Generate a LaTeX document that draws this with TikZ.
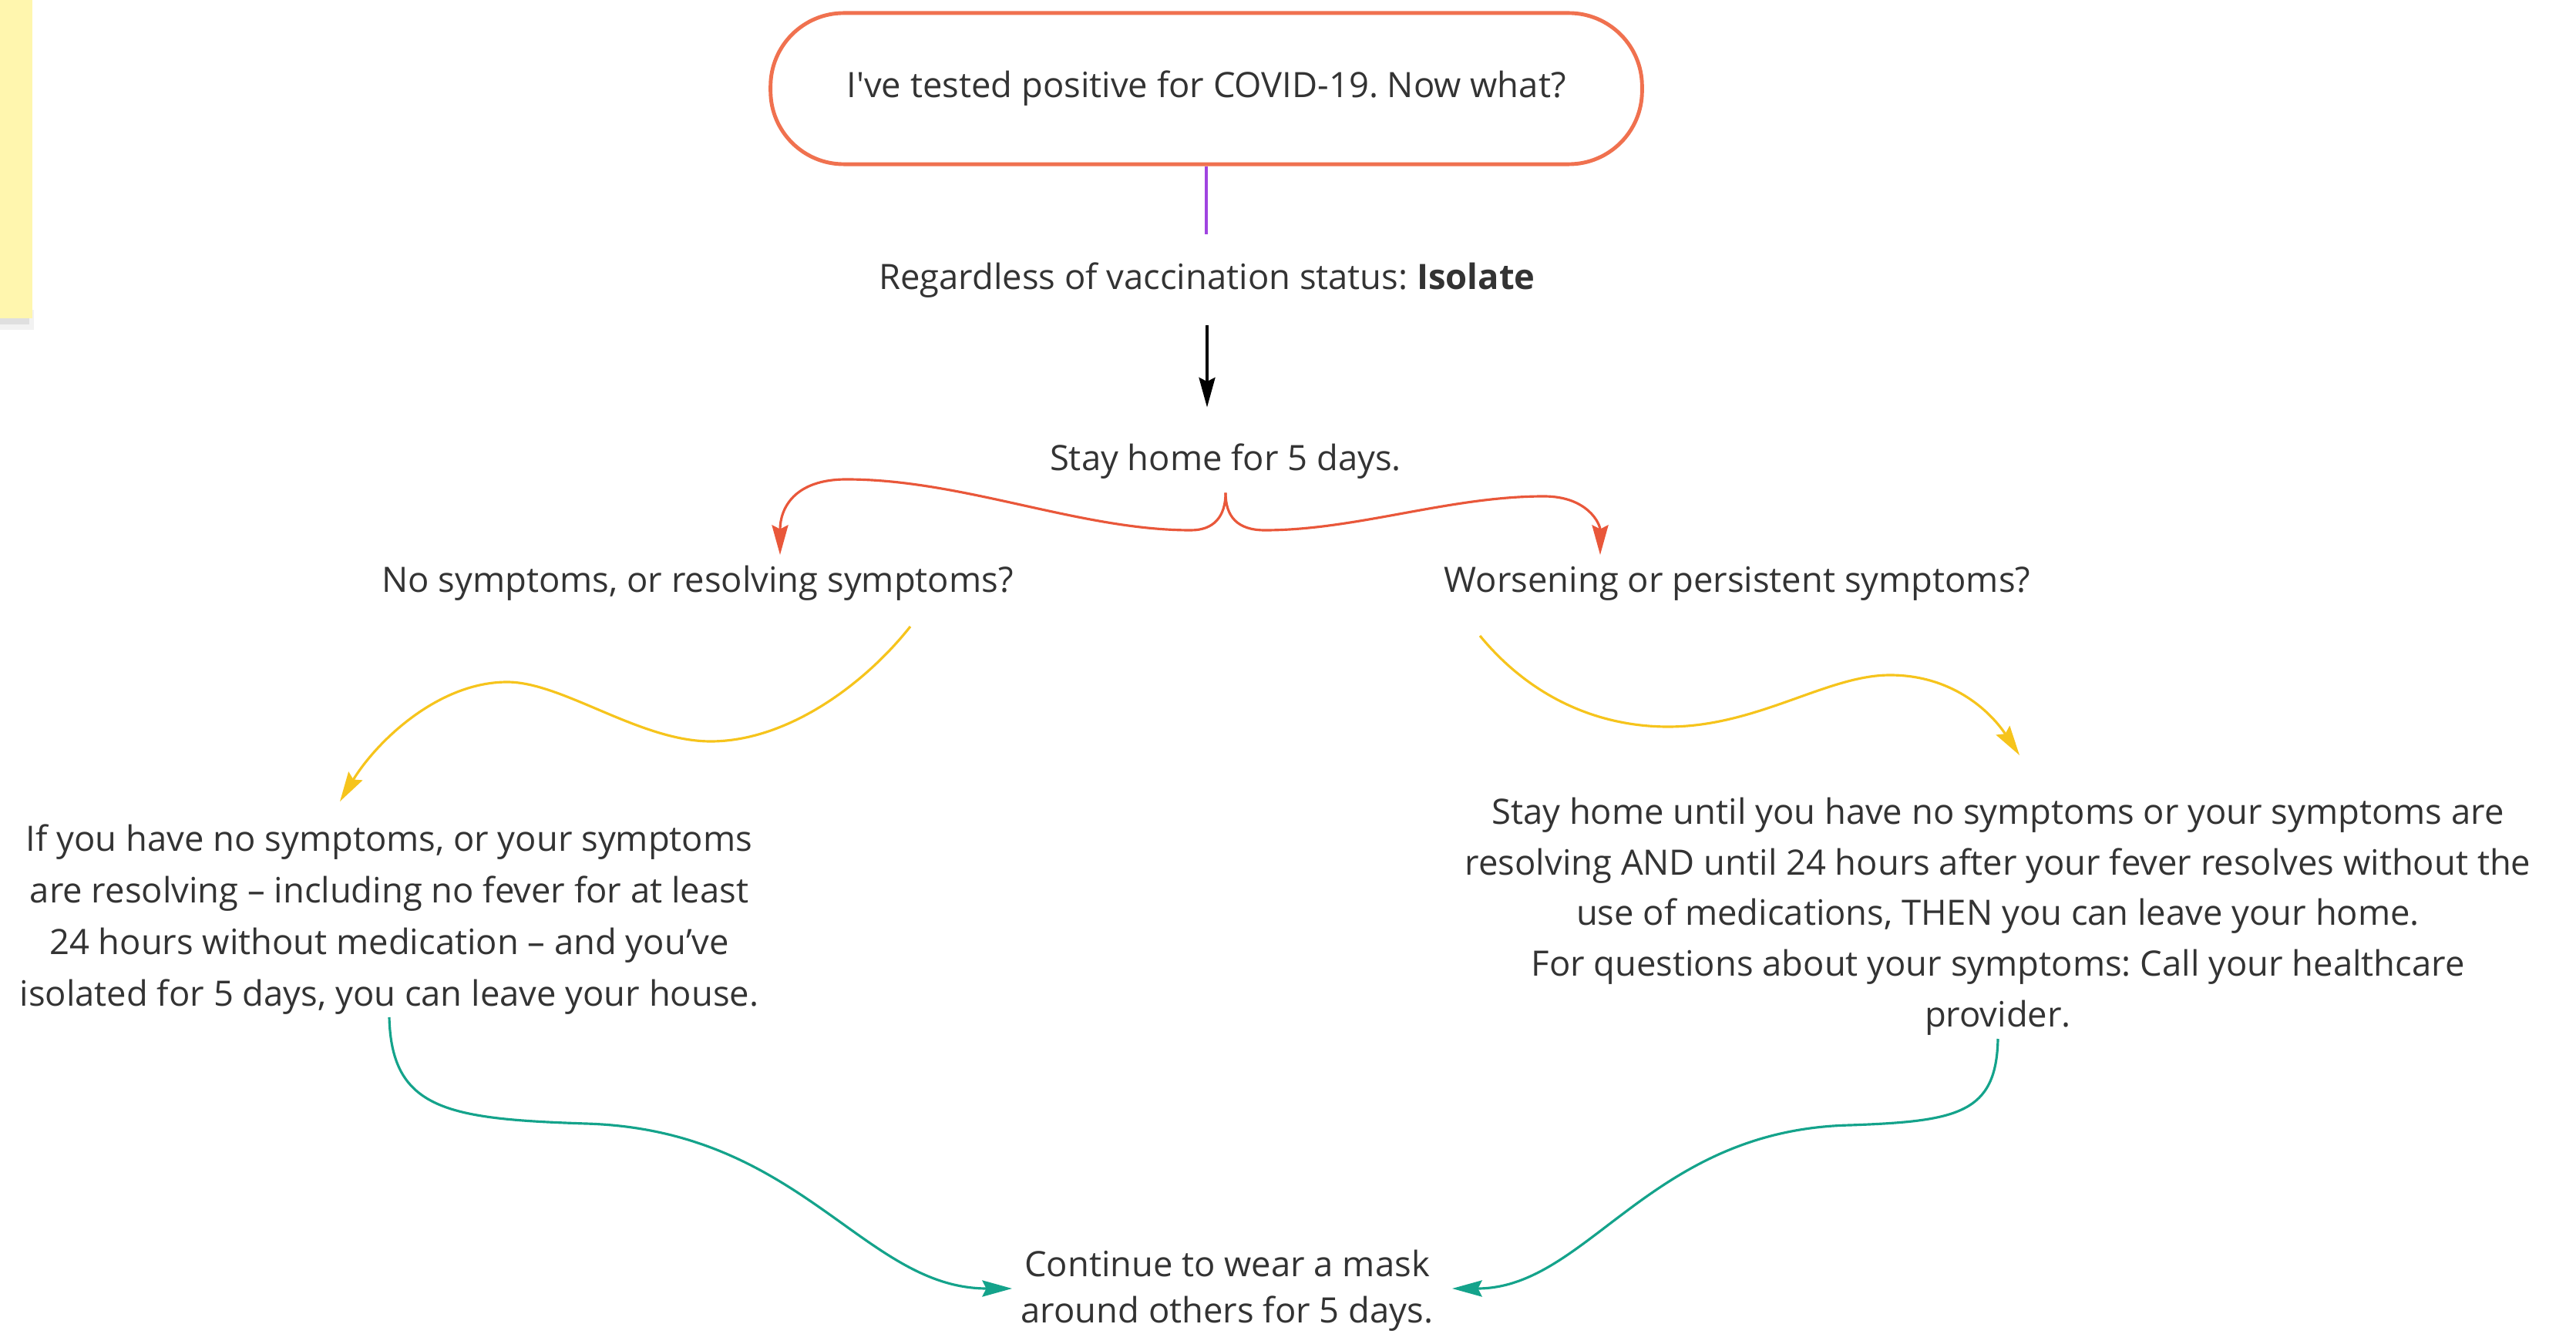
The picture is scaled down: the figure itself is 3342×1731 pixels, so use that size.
\documentclass[tikz,border=0pt]{standalone}
\usepackage{fontspec}
\setmainfont{Open Sans}
\usetikzlibrary{arrows.meta,calc}
\definecolor{txt}{HTML}{333333}
\definecolor{boxred}{HTML}{F0714F}
\definecolor{splitred}{HTML}{E9573A}
\definecolor{purp}{HTML}{A044E0}
\definecolor{yel}{HTML}{F6C41C}
\definecolor{tealc}{HTML}{14A38B}
\definecolor{sticky}{HTML}{FFF6AE}
\frenchspacing
\begin{document}
\frenchspacing
\begin{tikzpicture}[x=0.01cm,y=-0.01cm,
  lbl/.style={text=txt,font=\fontsize{12.9}{19}\selectfont,align=center,inner sep=0pt},
  conn/.style={line width=0.9pt},
  tipa/.style={-{Stealth[length=11pt,width=6pt,inset=1.5pt]}}]
\useasboundingbox (0,0) rectangle (3342,1731);
\fill[white] (0,0) rectangle (3342,1731);
% sticky note
\fill[black,opacity=0.05] (0,402) rectangle (44,428);
\fill[black,opacity=0.08] (0,405) rectangle (38,421);
\fill[sticky] (0,0) rectangle (42,413);
% nodes
\node[lbl, draw=boxred, line width=1.4pt, rounded corners=0.95cm,
      minimum width=11.3cm, minimum height=1.96cm] (q) at (1565,115)
      {\raisebox{-5\dimexpr0.01cm\relax}{I\textquotesingle ve tested positive for COVID-19. Now what?}};
\node[lbl] (reg) at (1566,364) {Regardless of vaccination status: \textbf{Isolate}};
\node[lbl] (stay) at (1590,599) {Stay home for 5 days.};
\node[lbl] (nosym) at (905,757) {No symptoms, or resolving symptoms?};
\node[lbl] (worse) at (2254,757) {Worsening or persistent symptoms?};
\node[lbl] (leftb) at (505,1193) {If you have no symptoms, or your symptoms\\
  are resolving – including no fever for at least\\
  24 hours without medication – and you’ve\\
  isolated for 5 days, you can leave your house.};
\node[lbl, font=\fontsize{12.9}{18.7}\selectfont] (rightb) at (2592,1189)
  {Stay home until you have no symptoms or your symptoms are\\
  resolving AND until 24 hours after your fever resolves without the\\
  use of medications, THEN you can leave your home.\\
  For questions about your symptoms: Call your healthcare\\
  provider.};
\node[lbl, font=\fontsize{12.9}{17}\selectfont] (mask) at (1592,1675)
  {Continue to wear a mask\\ around others for 5 days.};
% free ends
\coordinate (tipL) at (1012,720);
\coordinate (tipR) at (2076,720);
\coordinate (yl0) at (1181,813);
\coordinate (ylT) at (441,1040);
\coordinate (yr0) at (1920,825);
\coordinate (yrT) at (2620,980);
\coordinate (tl0) at (505,1320);
\coordinate (tlT) at (1313,1672);
\coordinate (tr0) at (2592,1348);
\coordinate (trT) at (1884,1672);
% connectors
\draw[purp, line width=1pt] (q.south) -- ++(0,88);
\draw[black, conn, tipa] ($(reg.south)+(0,34)$) -- ++(0,107);
\draw[splitred, conn, tipa] ($(stay.south)+(0,17)$)
  .. controls (1590,670) and (1575,688) .. (1545,688)
  .. controls (1400,688) and (1250,622) .. (1098,622)
  .. controls (1030,622) and (1012,660) .. (tipL);
\draw[splitred, conn, tipa] ($(stay.south)+(0,17)$)
  .. controls (1590,670) and (1605,688) .. (1641,688)
  .. controls (1760,688) and (1880,644) .. (2003,644)
  .. controls (2060,644) and (2076,680) .. (tipR);
\draw[yel, conn, tipa] (yl0)
  .. controls (1120,890) and (1020,962) .. (922,962)
  .. controls (830,962) and (730,885) .. (658,885)
  .. controls (570,885) and (490,960) .. (ylT);
\draw[yel, conn, tipa] (yr0)
  .. controls (1990,910) and (2080,943) .. (2164,943)
  .. controls (2280,943) and (2370,876) .. (2452,876)
  .. controls (2530,876) and (2580,920) .. (yrT);
\draw[tealc, conn, tipa] (tl0)
  .. controls (508,1440) and (580,1452) .. (760,1458)
  .. controls (1040,1466) and (1120,1672) .. (tlT);
\draw[tealc, conn, tipa] (tr0)
  .. controls (2590,1445) and (2540,1455) .. (2400,1460)
  .. controls (2140,1466) and (2060,1672) .. (trT);
\end{tikzpicture}
\end{document}
